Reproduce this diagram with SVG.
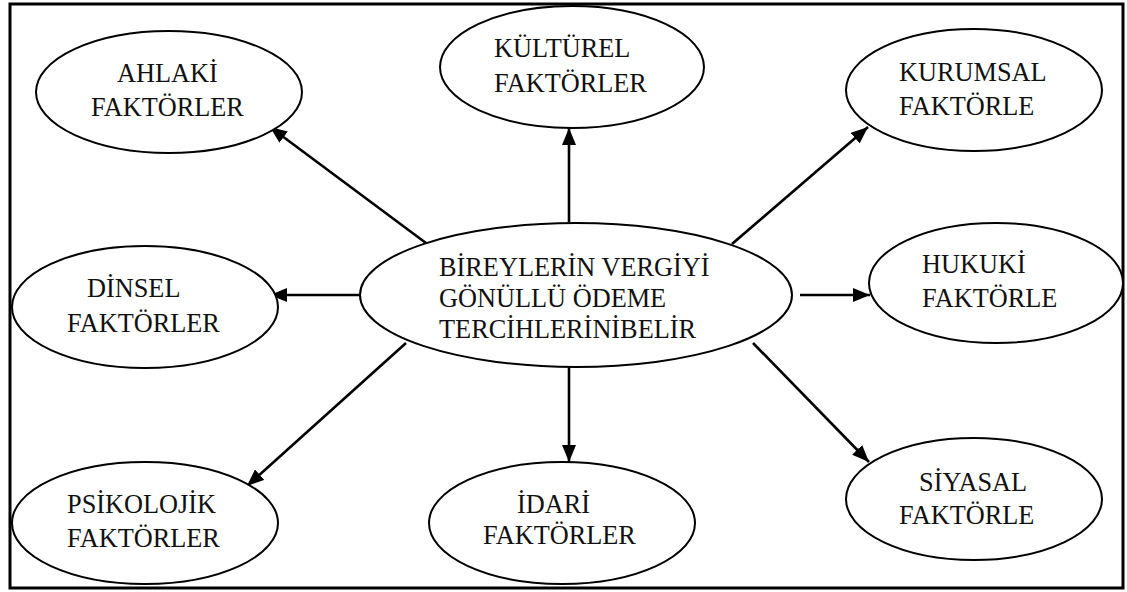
<svg xmlns="http://www.w3.org/2000/svg" width="1127" height="592" viewBox="0 0 1127 592">
<style>
.n ellipse{fill:#fff;stroke:#000;stroke-width:2}
.n text{font-family:"Liberation Serif","Times New Roman",serif;font-size:26.3px;fill:#111}
#connectors line{stroke:#000;stroke-width:2.6;marker-end:url(#ah)}
</style>
<defs>
<marker id="ah" markerUnits="userSpaceOnUse" markerWidth="18" markerHeight="14" refX="17" refY="7" orient="auto"><path d="M0,0 L17,7 L0,14 z" fill="#000"/></marker>
</defs>
<rect x="0" y="0" width="1127" height="592" fill="#fff"/>
<rect x="10" y="4" width="1113" height="584" fill="none" stroke="#000" stroke-width="3"/>
<g id="connectors">
<line x1="430" y1="246" x2="270" y2="127"/>
<line x1="569" y1="222" x2="569" y2="128"/>
<line x1="732" y1="244" x2="868" y2="127"/>
<line x1="360" y1="295" x2="270" y2="295"/>
<line x1="800" y1="295" x2="870" y2="295"/>
<line x1="406" y1="343" x2="247" y2="486"/>
<line x1="569" y1="367" x2="569" y2="462"/>
<line x1="753" y1="343" x2="869" y2="462"/>
</g>
<g id="center" class="n">
<ellipse cx="576" cy="295" rx="216" ry="72"/>
<text x="439" y="276">BİREYLERİN VERGİYİ</text>
<text x="439" y="307">GÖNÜLLÜ ÖDEME</text>
<text x="439" y="338">TERCİHLERİNİBELİR</text>
</g>
<g id="ahlaki" class="n">
<ellipse cx="169" cy="92" rx="133" ry="61"/>
<text x="117" y="82">AHLAKİ</text>
<text x="91" y="116">FAKTÖRLER</text>
</g>
<g id="kulturel" class="n">
<ellipse cx="572" cy="67" rx="132" ry="61"/>
<text x="494" y="57">KÜLTÜREL</text>
<text x="494" y="92">FAKTÖRLER</text>
</g>
<g id="kurumsal" class="n">
<ellipse cx="974" cy="90" rx="128" ry="61"/>
<text x="899" y="81">KURUMSAL</text>
<text x="899" y="115">FAKTÖRLE</text>
</g>
<g id="dinsel" class="n">
<ellipse cx="145" cy="307" rx="133" ry="61"/>
<text x="87" y="297">DİNSEL</text>
<text x="67" y="332">FAKTÖRLER</text>
</g>
<g id="hukuki" class="n">
<ellipse cx="996" cy="283" rx="127" ry="60"/>
<text x="922" y="273">HUKUKİ</text>
<text x="922" y="307">FAKTÖRLE</text>
</g>
<g id="psikolojik" class="n">
<ellipse cx="145" cy="523" rx="133" ry="61"/>
<text x="67" y="513">PSİKOLOJİK</text>
<text x="67" y="547">FAKTÖRLER</text>
</g>
<g id="idari" class="n">
<ellipse cx="562" cy="523" rx="133" ry="61"/>
<text x="517" y="513">İDARİ</text>
<text x="483" y="544">FAKTÖRLER</text>
</g>
<g id="siyasal" class="n">
<ellipse cx="974" cy="499" rx="128" ry="61"/>
<text x="919" y="491">SİYASAL</text>
<text x="899" y="524">FAKTÖRLE</text>
</g>
</svg>
